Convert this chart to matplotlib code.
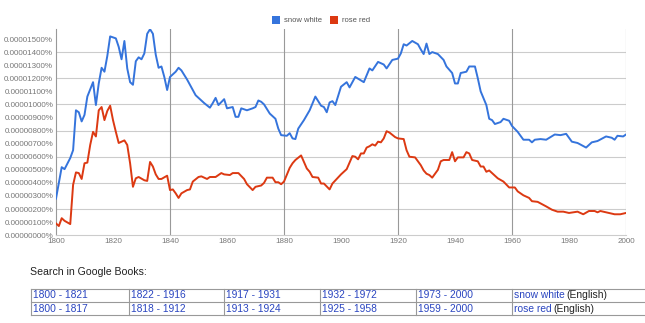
import matplotlib
matplotlib.use('Agg')
import matplotlib.pyplot as plt
from matplotlib.patches import Rectangle

plt.rcParams['font.family'] = ['Liberation Sans', 'DejaVu Sans']

# frequencies in units of 0.000001 %
snow_years = [1800, 1802, 1803, 1805, 1806, 1807, 1808, 1809, 1810, 1811, 1813, 1814, 1815,
              1816, 1817, 1818, 1819, 1821, 1822, 1823, 1824, 1825, 1826, 1827, 1828, 1829,
              1830, 1831, 1832, 1833, 1834, 1835, 1836, 1837, 1838, 1839, 1840, 1842, 1843,
              1844, 1846, 1848, 1849, 1852, 1854, 1855, 1856, 1857, 1859, 1860, 1862, 1863,
              1864, 1865, 1867, 1869, 1870, 1871, 1872, 1873, 1875, 1877, 1878, 1879, 1881,
              1882, 1883, 1884, 1885, 1887, 1889, 1891, 1893, 1894, 1895, 1896, 1897, 1898,
              1900, 1902, 1903, 1905, 1908, 1910, 1911, 1913, 1915, 1916, 1918, 1920, 1921,
              1922, 1923, 1925, 1927, 1928, 1929, 1930, 1931, 1932, 1934, 1936, 1937, 1939,
              1940, 1941, 1942, 1944, 1945, 1947, 1948, 1949, 1951, 1952, 1953, 1954, 1956,
              1957, 1959, 1960, 1962, 1964, 1966, 1967, 1968, 1970, 1972, 1975, 1977, 1979,
              1981, 1983, 1986, 1988, 1990, 1993, 1995, 1996, 1997, 1999, 2000]
snow_vals = [2.8, 5.2, 5.05, 5.9, 6.5, 9.55, 9.4, 8.7, 9.2, 10.6, 11.7, 9.95, 11.6,
             12.8, 12.5, 13.7, 15.2, 15.05, 14.4, 13.45, 14.85, 12.75, 11.7, 11.5, 13.3, 13.6,
             13.45, 13.9, 15.4, 15.75, 15.4, 13.8, 12.8, 12.9, 12.1, 11.1, 12.1, 12.5, 12.8,
             12.6, 11.9, 11.1, 10.7, 10.1, 9.75, 10.1, 10.5, 9.95, 10.4, 9.7, 9.8, 9.05,
             9.05, 9.7, 9.55, 9.7, 9.8, 10.3, 10.2, 10.0, 9.3, 8.9, 8.15, 7.65, 7.6,
             7.8, 7.4, 7.35, 8.15, 8.8, 9.55, 10.6, 9.9, 9.8, 9.4, 10.15, 10.25, 9.95,
             11.35, 11.7, 11.3, 12.1, 11.7, 12.75, 12.6, 13.25, 13.05, 12.75, 13.4, 13.5, 13.9,
             14.6, 14.5, 14.85, 14.6, 14.2, 13.85, 14.65, 13.85, 14.0, 13.85, 13.4, 12.9, 12.4,
             11.6, 11.6, 12.4, 12.5, 12.9, 12.9, 12.0, 11.0, 9.95, 8.9, 8.8, 8.5, 8.65,
             8.9, 8.75, 8.35, 7.9, 7.3, 7.3, 7.1, 7.3, 7.35, 7.3, 7.7, 7.65, 7.75,
             7.15, 7.05, 6.7, 7.1, 7.2, 7.55, 7.45, 7.3, 7.6, 7.55, 7.7]

rose_years = [1800, 1801, 1802, 1803, 1805, 1806, 1807, 1808, 1809, 1810, 1811, 1812, 1813,
              1814, 1815, 1816, 1817, 1818, 1819, 1820, 1821, 1822, 1823, 1824, 1825, 1826,
              1827, 1828, 1829, 1831, 1832, 1833, 1834, 1835, 1836, 1837, 1839, 1840, 1841,
              1842, 1843, 1844, 1846, 1847, 1848, 1850, 1851, 1853, 1854, 1856, 1858, 1859,
              1861, 1862, 1864, 1866, 1867, 1869, 1870, 1872, 1873, 1874, 1876, 1877, 1878,
              1879, 1880, 1882, 1883, 1884, 1886, 1887, 1888, 1889, 1890, 1892, 1893, 1894,
              1896, 1897, 1900, 1902, 1904, 1905, 1906, 1907, 1908, 1909, 1910, 1911, 1912,
              1913, 1914, 1915, 1916, 1917, 1919, 1920, 1922, 1923, 1924, 1926, 1928, 1929,
              1930, 1931, 1932, 1934, 1935, 1936, 1938, 1939, 1940, 1941, 1943, 1944, 1945,
              1946, 1948, 1949, 1950, 1951, 1952, 1953, 1955, 1957, 1959, 1961, 1962, 1964,
              1966, 1967, 1969, 1972, 1974, 1976, 1978, 1980, 1983, 1985, 1987, 1989, 1990,
              1991, 1994, 1996, 1998, 2000]
rose_vals = [0.9, 0.7, 1.3, 1.1, 0.85, 3.85, 4.8, 4.75, 4.3, 5.5, 5.55, 6.9, 7.9,
             7.55, 9.55, 9.8, 8.8, 9.5, 9.9, 8.8, 7.9, 7.05, 7.15, 7.25, 6.9, 5.5,
             3.7, 4.35, 4.45, 4.2, 4.15, 5.6, 5.25, 4.65, 4.3, 4.3, 4.55, 3.45, 3.5,
             3.2, 2.85, 3.2, 3.45, 3.5, 4.1, 4.45, 4.5, 4.3, 4.45, 4.45, 4.75, 4.65,
             4.6, 4.75, 4.75, 4.3, 3.9, 3.45, 3.7, 3.8, 4.0, 4.4, 4.4, 4.05, 4.05,
             3.9, 4.1, 5.15, 5.5, 5.75, 6.1, 5.6, 5.1, 4.85, 4.45, 4.4, 3.95, 3.95,
             3.5, 3.95, 4.65, 5.05, 6.05, 6.0, 5.8, 6.25, 6.25, 6.7, 6.8, 6.95, 6.85,
             7.15, 7.1, 7.4, 7.95, 7.85, 7.5, 7.4, 7.35, 6.5, 6.0, 5.95, 5.35, 4.95,
             4.7, 4.6, 4.4, 5.0, 5.65, 5.75, 5.75, 6.35, 5.65, 5.95, 5.95, 6.35, 6.25,
             5.75, 5.65, 5.25, 5.25, 4.85, 4.95, 4.75, 4.35, 4.1, 3.65, 3.65, 3.35, 3.05,
             2.85, 2.6, 2.55, 2.2, 1.95, 1.8, 1.8, 1.7, 1.8, 1.6, 1.85, 1.85, 1.75,
             1.85, 1.7, 1.6, 1.6, 1.7]

series_names = ['snow white', 'rose red']
series_colors = ['#3574dc', '#dc3912']

year_ticks = list(range(1800, 2001, 20))
value_ticks = list(range(0, 16))

table_rows = [
    (['1800 - 1821', '1822 - 1916', '1917 - 1931', '1932 - 1972', '1973 - 2000'], 'snow white'),
    (['1800 - 1817', '1818 - 1912', '1913 - 1924', '1925 - 1958', '1959 - 2000'], 'rose red'),
]

fig = plt.figure(figsize=(6.45, 3.23), dpi=100)
W, H = 645, 323

ax = fig.add_axes([56 / W, 1 - 235.2 / H, 570 / W, 206 / H])
ax.plot(snow_years, snow_vals, color=series_colors[0], lw=1.4, zorder=3)
ax.plot(rose_years, rose_vals, color=series_colors[1], lw=1.4, zorder=3)

ax.set_xlim(1800, 2000)
ax.set_ylim(0, 15.75)
ax.set_xticks(year_ticks)
ax.set_xticklabels([str(y) for y in year_ticks])
ax.set_yticks(value_ticks)
ax.set_yticklabels(['%.8f%%' % (v * 1e-6) for v in value_ticks])
ax.tick_params(length=0, labelsize=5.8, colors='#777777', pad=2)

for v in range(2, 16, 2):
    ax.axhline(v, color='#cccccc', lw=0.8, zorder=1)
for y in range(1840, 2001, 40):
    ax.axvline(y, color='#999999', lw=0.8, zorder=1)

for side in ['top', 'right']:
    ax.spines[side].set_visible(False)
ax.spines['left'].set_color('#999999')
ax.spines['left'].set_linewidth(0.8)
ax.spines['bottom'].set_color('#cccccc')
ax.spines['bottom'].set_linewidth(0.8)

# overlay in pixel coordinates for the legend and the book search table
ov = fig.add_axes([0, 0, 1, 1], zorder=5)
ov.set_xlim(0, W)
ov.set_ylim(H, 0)
ov.axis('off')
ov.patch.set_alpha(0)

lx = 272
for name, col in zip(series_names, series_colors):
    ov.add_patch(Rectangle((lx, 16), 8, 8, color=col, lw=0))
    ov.text(lx + 12, 20.5, name, fontsize=5.5, color='#555555', va='center')
    lx += 58

ov.text(30, 272, 'Search in Google Books:', fontsize=7.6, color='#222222', va='center')

col_x = [31, 129, 224, 320, 416, 512, 645]
row_y = [289, 302, 315]
for y in row_y:
    ov.plot([col_x[0], col_x[-1]], [y, y], color='#999999', lw=0.8)
for x in col_x[:-1]:
    ov.plot([x, x], [row_y[0], row_y[-1]], color='#999999', lw=0.8)

link_col = '#2a45c0'
fs = 7.4
for r, (ranges, term) in enumerate(table_rows):
    yc = (row_y[r] + row_y[r + 1]) / 2
    for c, txt in enumerate(ranges):
        ov.text(col_x[c] + 2, yc, txt, fontsize=fs, color=link_col, va='center')
    t1 = ov.text(col_x[5] + 2, yc, term, fontsize=fs, color=link_col, va='center')
    fig.canvas.draw()
    bb = t1.get_window_extent()
    ov.text(col_x[5] + 2 + bb.width + 1.5, yc, '(English)', fontsize=fs, color='#222222', va='center')

fig.savefig('out.png', dpi=100)
